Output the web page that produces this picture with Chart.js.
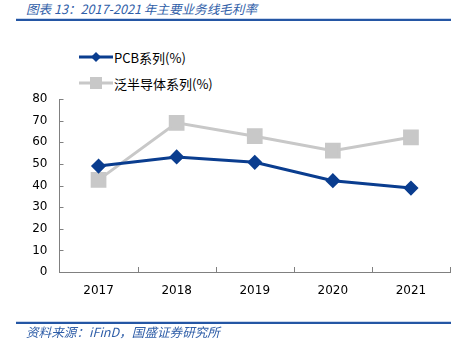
<!DOCTYPE html>
<html>
<head>
<meta charset="utf-8">
<script src="https://cdn.jsdelivr.net/npm/chart.js@4.4.1/dist/chart.umd.min.js"></script>
<style>
  html, body { margin: 0; padding: 0; background: #fff; }
  body { width: 462px; height: 352px; position: relative; overflow: hidden; }
  #title { position: absolute; left: 26px; top: 0px; font: italic 12.6px "Noto Sans CJK SC", sans-serif; color: #2f5ea8; line-height: 17px; white-space: nowrap; }
  .rule { position: absolute; left: 16px; width: 435px; height: 2px; background: #2456a4; box-shadow: 0 -1px 0 #c9d6ec; }
  #source { position: absolute; left: 26px; top: 323px; font: italic 12.6px "Noto Sans CJK SC", sans-serif; color: #2f5ea8; line-height: 18px; white-space: nowrap; }
  #legend { position: absolute; left: 79px; top: 44px; font: 13px "Noto Sans CJK SC", sans-serif; color: #000; }
  .item { height: 26px; display: flex; align-items: center; }
  .item svg { margin-right: 1px; }
  canvas { position: absolute; left: 0; top: 0; }
</style>
</head>
<body>
<div id="title">图表 13：2017-2021 年主要业务线毛利率</div>
<div class="rule" style="top:19px"></div>
<div id="legend"></div>
<canvas id="chartCanvas" width="462" height="352"></canvas>
<div class="rule" style="top:322px"></div>
<div id="source">资料来源：iFinD，国盛证券研究所</div>
<script>
// --- data ---
const years = ["2017", "2018", "2019", "2020", "2021"];
const pcbMargin = [49.0, 53.2, 50.7, 42.2, 38.8];
const semiMargin = [42.6, 69.0, 62.8, 56.1, 62.3];
const seriesNames = ["PCB系列(%)", "泛半导体系列(%)"];

const blue = "#0a3d8f";
const grey = "#c8c8c8";
const axisColor = "#808080";

// --- legend (html, stacked like the original) ---
const legend = document.getElementById("legend");
legend.innerHTML =
  `<div class="item"><svg width="34" height="12"><line x1="0" y1="6" x2="34" y2="6" stroke="${blue}" stroke-width="3"/>` +
  `<polygon points="17,1 22,6 17,11 12,6" fill="${blue}"/></svg>${seriesNames[0]}</div>` +
  `<div class="item"><svg width="34" height="14"><line x1="0" y1="7" x2="34" y2="7" stroke="${grey}" stroke-width="3"/>` +
  `<rect x="11" y="1" width="12" height="12" fill="${grey}"/></svg>${seriesNames[1]}</div>`;

// inward tick marks on both axes
const innerTicks = {
  id: "innerTicks",
  afterDraw(chart) {
    const { ctx, chartArea, scales } = chart;
    ctx.save();
    ctx.strokeStyle = axisColor;
    ctx.lineWidth = 1;
    ctx.beginPath();
    scales.y.ticks.forEach(t => {
      const y = Math.round(scales.y.getPixelForValue(t.value)) + 0.5;
      ctx.moveTo(chartArea.left, y);
      ctx.lineTo(chartArea.left + 4, y);
    });
    const n = years.length;
    const step = (chartArea.right - chartArea.left) / n;
    for (let i = 1; i <= n; i++) {
      const x = Math.round(chartArea.left + i * step) + 0.5;
      ctx.moveTo(x, chartArea.bottom);
      ctx.lineTo(x, chartArea.bottom - 5);
    }
    ctx.stroke();
    ctx.restore();
  }
};

const tickFont = { family: "'DejaVu Sans', sans-serif", size: 12 };

new Chart(document.getElementById("chartCanvas"), {
  type: "line",
  data: {
    labels: years,
    datasets: [
      {
        label: seriesNames[0],
        data: pcbMargin,
        borderColor: blue,
        backgroundColor: blue,
        borderWidth: 3,
        pointStyle: "rectRot",
        pointRadius: 5.5,
        pointHoverRadius: 5.5,
        tension: 0
      },
      {
        label: seriesNames[1],
        data: semiMargin,
        borderColor: grey,
        backgroundColor: grey,
        borderWidth: 3,
        pointStyle: "rect",
        pointRadius: 9,
        pointHoverRadius: 9,
        tension: 0
      }
    ]
  },
  options: {
    responsive: false,
    animation: false,
    layout: { padding: { left: 0, right: 11, top: 99, bottom: 50 } },
    plugins: {
      legend: { display: false },
      tooltip: { enabled: false },
      title: { display: false }
    },
    scales: {
      x: {
        offset: true,
        grid: { display: true, drawOnChartArea: false, drawTicks: false, color: "transparent" },
        border: { display: true, color: axisColor, width: 1 },
        ticks: { color: "#000", font: tickFont, padding: 12, maxRotation: 0 },
        afterFit: s => { s.height = 30; }
      },
      y: {
        min: 0,
        max: 80,
        grid: { display: true, drawOnChartArea: false, drawTicks: false, color: "transparent" },
        border: { display: true, color: axisColor, width: 1 },
        ticks: { stepSize: 10, color: "#000", font: tickFont, padding: 12 },
        afterFit: s => { s.width = 59.5; }
      }
    }
  },
  plugins: [innerTicks]
});
</script>
</body>
</html>
